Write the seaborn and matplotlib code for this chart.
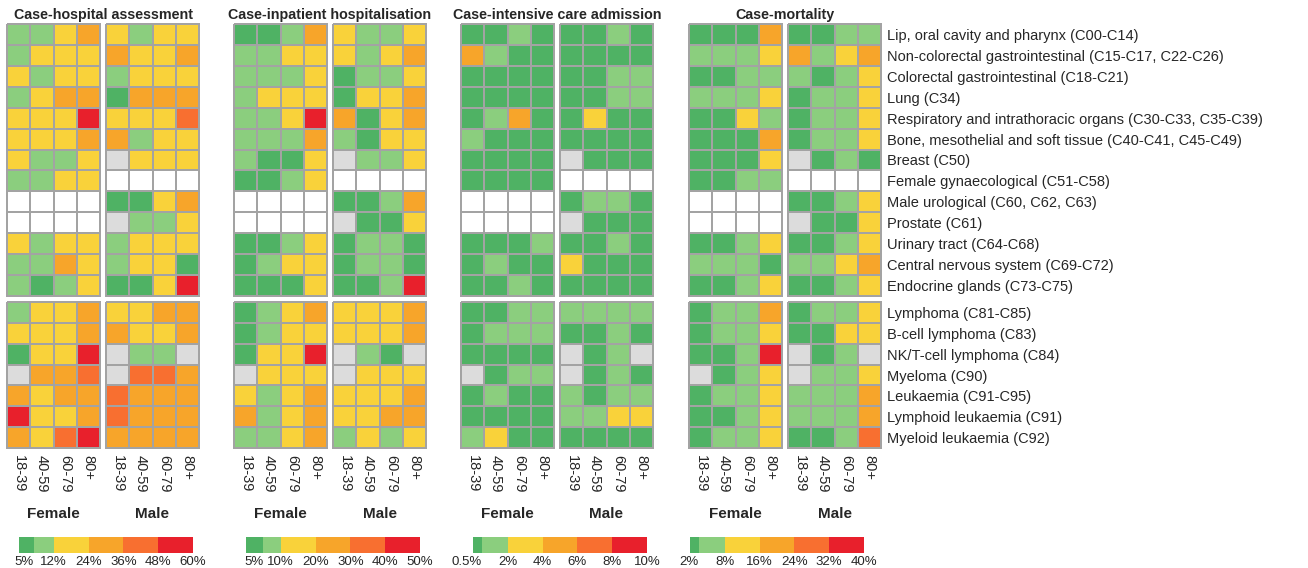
import numpy as np
import pandas as pd
import matplotlib
matplotlib.use("Agg")
import matplotlib.pyplot as plt
from matplotlib.colors import ListedColormap, BoundaryNorm
from matplotlib.cm import ScalarMappable
from matplotlib.ticker import NullLocator
import seaborn as sns

NA = np.nan    # cancer type not applicable to this sex
SUP = -1       # too few cases, estimate suppressed

ages = ["18-39", "40-59", "60-79", "80+"]
sexes = ["Female", "Male"]

solid_types = [
    "Lip, oral cavity and pharynx (C00-C14)",
    "Non-colorectal gastrointestinal (C15-C17, C22-C26)",
    "Colorectal gastrointestinal (C18-C21)",
    "Lung (C34)",
    "Respiratory and intrathoracic organs (C30-C33, C35-C39)",
    "Bone, mesothelial and soft tissue (C40-C41, C45-C49)",
    "Breast (C50)",
    "Female gynaecological (C51-C58)",
    "Male urological (C60, C62, C63)",
    "Prostate (C61)",
    "Urinary tract (C64-C68)",
    "Central nervous system (C69-C72)",
    "Endocrine glands (C73-C75)",
]
haem_types = [
    "Lymphoma (C81-C85)",
    "B-cell lymphoma (C83)",
    "NK/T-cell lymphoma (C84)",
    "Myeloma (C90)",
    "Leukaemia (C91-C95)",
    "Lymphoid leukaemia (C91)",
    "Myeloid leukaemia (C92)",
]

outcomes = ["Case-hospital assessment", "Case-inpatient hospitalisation",
            "Case-intensive care admission", "Case-mortality"]

# colour-band limits (%) for each outcome
hosp_bounds = [0, 5, 12, 24, 36, 48, 60]
inp_bounds = [0, 5, 10, 20, 30, 40, 50]
icu_bounds = [0, 0.5, 2, 4, 6, 8, 10]
mort_bounds = [0, 2, 8, 16, 24, 32, 40]

# rates (%) by cancer type (rows) and age group (columns)
hosp_female = [
    [9, 9, 18, 30], [9, 18, 18, 18], [18, 9, 18, 18], [9, 18, 30, 30],
    [18, 18, 18, 54], [18, 18, 18, 30], [18, 9, 9, 18], [9, 9, 18, 18],
    [NA, NA, NA, NA], [NA, NA, NA, NA], [18, 9, 18, 18], [9, 9, 30, 18],
    [9, 3, 9, 18],
    [9, 18, 18, 30], [18, 18, 18, 30], [3, 18, 18, 54], [SUP, 30, 30, 42],
    [30, 18, 30, 30], [54, 18, 18, 30], [30, 18, 42, 54],
]
hosp_male = [
    [18, 9, 18, 18], [30, 18, 18, 30], [9, 18, 18, 18], [3, 30, 30, 30],
    [18, 18, 18, 42], [30, 9, 18, 18], [SUP, 18, 18, 18], [NA, NA, NA, NA],
    [3, 3, 18, 30], [SUP, 9, 9, 18], [9, 18, 18, 18], [9, 18, 18, 3],
    [3, 3, 18, 54],
    [18, 18, 30, 30], [30, 18, 18, 30], [SUP, 9, 9, SUP], [SUP, 42, 42, 30],
    [42, 30, 30, 30], [42, 30, 30, 30], [30, 30, 30, 30],
]
inp_female = [
    [3, 3, 8, 25], [8, 8, 15, 15], [8, 8, 8, 15], [8, 15, 15, 15],
    [8, 8, 15, 45], [8, 8, 8, 25], [8, 3, 3, 15], [3, 3, 8, 15],
    [NA, NA, NA, NA], [NA, NA, NA, NA], [3, 3, 8, 15], [3, 8, 15, 15],
    [3, 3, 3, 15],
    [3, 8, 15, 25], [3, 8, 15, 15], [3, 15, 15, 45], [SUP, 15, 15, 15],
    [15, 8, 15, 25], [25, 8, 15, 25], [8, 8, 15, 25],
]
inp_male = [
    [15, 8, 8, 15], [15, 8, 15, 25], [3, 8, 8, 15], [3, 15, 15, 25],
    [25, 3, 15, 25], [8, 3, 15, 15], [SUP, 8, 8, 15], [NA, NA, NA, NA],
    [3, 3, 8, 25], [SUP, 3, 3, 15], [3, 8, 8, 3], [3, 8, 8, 3],
    [3, 3, 8, 45],
    [15, 15, 15, 25], [15, 15, 15, 25], [SUP, 8, 3, SUP], [SUP, 15, 15, 15],
    [15, 15, 15, 25], [15, 15, 25, 25], [8, 15, 8, 15],
]
icu_female = [
    [0.3, 0.3, 1.2, 0.3], [5, 1.2, 0.3, 0.3], [0.3, 0.3, 0.3, 0.3],
    [0.3, 0.3, 0.3, 0.3], [0.3, 1.2, 5, 0.3], [1.2, 0.3, 0.3, 0.3],
    [0.3, 0.3, 0.3, 0.3], [0.3, 0.3, 0.3, 0.3], [NA, NA, NA, NA],
    [NA, NA, NA, NA], [0.3, 0.3, 0.3, 1.2], [0.3, 1.2, 0.3, 0.3],
    [0.3, 0.3, 1.2, 0.3],
    [0.3, 0.3, 1.2, 1.2], [0.3, 1.2, 1.2, 1.2], [0.3, 0.3, 0.3, 0.3],
    [SUP, 0.3, 1.2, 1.2], [0.3, 1.2, 0.3, 0.3], [0.3, 0.3, 0.3, 0.3],
    [1.2, 3, 0.3, 0.3],
]
icu_male = [
    [0.3, 0.3, 1.2, 0.3], [0.3, 0.3, 0.3, 0.3], [0.3, 0.3, 1.2, 1.2],
    [0.3, 0.3, 1.2, 1.2], [0.3, 3, 0.3, 0.3], [0.3, 0.3, 0.3, 0.3],
    [SUP, 0.3, 0.3, 0.3], [NA, NA, NA, NA], [0.3, 1.2, 1.2, 0.3],
    [SUP, 0.3, 0.3, 0.3], [0.3, 0.3, 1.2, 0.3], [3, 0.3, 0.3, 0.3],
    [0.3, 0.3, 0.3, 0.3],
    [1.2, 1.2, 1.2, 1.2], [0.3, 0.3, 1.2, 0.3], [SUP, 0.3, 1.2, SUP],
    [SUP, 0.3, 1.2, 0.3], [1.2, 0.3, 1.2, 1.2], [1.2, 1.2, 3, 3],
    [0.3, 0.3, 0.3, 0.3],
]
mort_female = [
    [1, 1, 1, 20], [5, 5, 5, 12], [1, 1, 5, 5], [5, 5, 5, 12],
    [1, 1, 12, 5], [1, 1, 1, 20], [1, 1, 1, 12], [1, 1, 5, 5],
    [NA, NA, NA, NA], [NA, NA, NA, NA], [1, 1, 5, 12], [5, 5, 5, 1],
    [1, 1, 5, 12],
    [1, 5, 5, 20], [1, 5, 5, 12], [1, 1, 5, 36], [SUP, 1, 5, 12],
    [1, 5, 5, 12], [1, 1, 5, 12], [1, 5, 5, 12],
]
mort_male = [
    [1, 1, 5, 5], [20, 5, 12, 20], [5, 1, 5, 12], [1, 5, 5, 12],
    [1, 5, 5, 12], [1, 5, 5, 12], [SUP, 1, 5, 1], [NA, NA, NA, NA],
    [1, 1, 5, 12], [SUP, 1, 1, 12], [1, 1, 5, 12], [5, 5, 12, 20],
    [1, 1, 5, 12],
    [1, 5, 5, 12], [1, 1, 12, 12], [SUP, 1, 5, SUP], [SUP, 5, 5, 12],
    [5, 5, 5, 20], [5, 5, 5, 20], [1, 1, 5, 28],
]

panels = [
    (hosp_bounds, hosp_female, hosp_male),
    (inp_bounds, inp_female, inp_male),
    (icu_bounds, icu_female, icu_male),
    (mort_bounds, mort_female, mort_male),
]

band_colors = ["#4FB264", "#8BCE7E", "#F9D23A", "#F7A52A", "#F86F30", "#E8202C"]
cmap = ListedColormap(band_colors).with_extremes(under="#DCDCDC", bad="white")

sns.set_theme(style="white")
plt.rcParams["font.family"] = ["Liberation Sans", "DejaVu Sans"]

W, H = 1308, 568
fig = plt.figure(figsize=(W / 100, H / 100), dpi=100)


def px_axes(left, top, width, height):
    return fig.add_axes([left / W, 1 - (top + height) / H, width / W, height / H])


n_solid = len(solid_types)
group_left = [7, 234, 461, 689]
cbar_left = [19, 246, 473, 690]
panel_w, sex_step = 93, 99
blocks = [(24, 272, slice(0, n_solid), solid_types),
          (302, 146, slice(n_solid, None), haem_types)]

for g, (bounds, female, male) in enumerate(panels):
    norm = BoundaryNorm(bounds, ncolors=len(band_colors))
    for s, values in enumerate([female, male]):
        left = group_left[g] + s * sex_step
        arr = np.array(values, dtype=float)
        for top, height, rows, labels in blocks:
            ax = px_axes(left, top, panel_w, height)
            df = pd.DataFrame(arr[rows], index=labels, columns=ages)
            sns.heatmap(df, ax=ax, cmap=cmap, norm=norm, cbar=False,
                        linewidths=1.1, linecolor="#A3A3A3")
            ax.collections[0].set_clip_on(False)
            ax.tick_params(length=0)
            if rows.start == 0:
                ax.set_xticks([])
            else:
                ax.set_xticklabels(ages, rotation=270, fontsize=10.5,
                                   va="top", ha="center")
                ax.tick_params(axis="x", pad=5)
            if g == 3 and s == 1:
                ax.yaxis.tick_right()
                ax.set_yticklabels(labels, rotation=0, fontsize=10.5)
                ax.tick_params(axis="y", pad=4)
            else:
                ax.set_yticks([])
            ax.set_xlabel("")
            ax.set_ylabel("")
        fig.text((left + panel_w / 2) / W, 1 - 514 / H, sexes[s],
                 ha="center", va="center", fontsize=11, fontweight="bold")

    fig.text((group_left[g] + (sex_step + panel_w) / 2) / W, 1 - 15 / H,
             outcomes[g], ha="center", va="center", fontsize=10.3,
             fontweight="bold")

    cax = px_axes(cbar_left[g], 537, 174, 16)
    cb = fig.colorbar(ScalarMappable(norm=norm, cmap=cmap), cax=cax,
                      orientation="horizontal", spacing="proportional",
                      ticks=bounds[1:])
    cb.outline.set_visible(False)
    cb.ax.xaxis.set_minor_locator(NullLocator())
    cb.ax.set_xticklabels([f"{b:g}%" for b in bounds[1:]])
    cb.ax.tick_params(length=0, pad=2, labelsize=9.5)
    # the narrow first band: keep its label clear of the next one
    cb.ax.get_xticklabels()[0].set_ha("right")

fig.savefig("out.png", dpi=100)
